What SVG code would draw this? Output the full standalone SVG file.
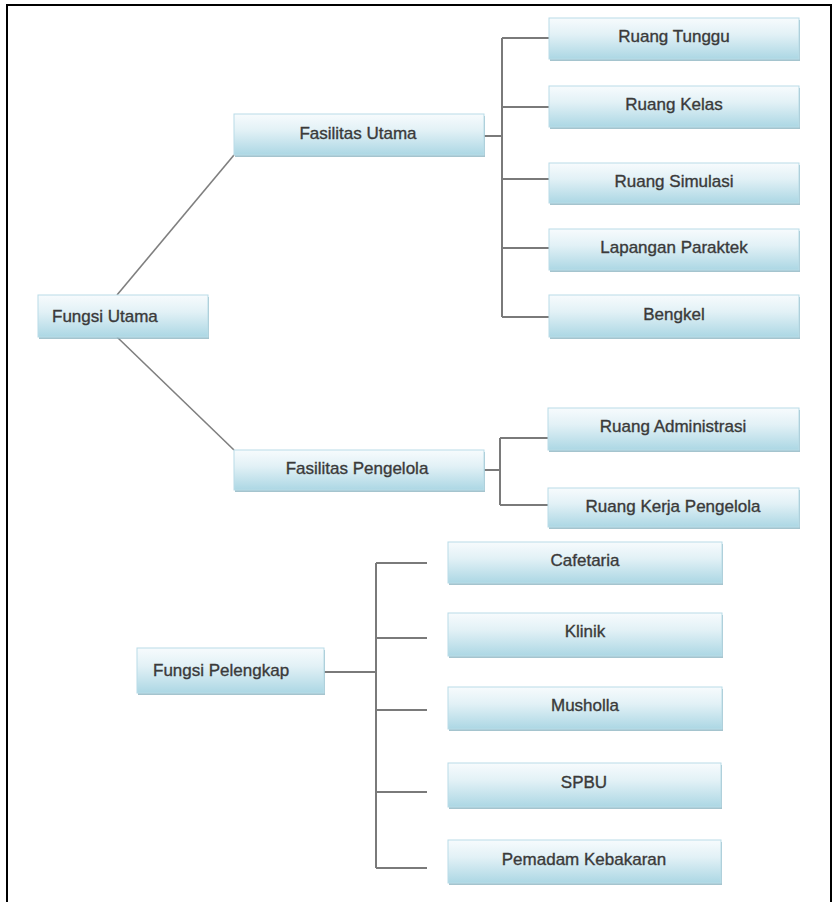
<svg xmlns="http://www.w3.org/2000/svg" width="834" height="902" viewBox="0 0 834 902">
<defs>
<linearGradient id="g" x1="0" y1="0" x2="0" y2="1">
<stop offset="0" stop-color="#f7fbfd"/>
<stop offset="0.4" stop-color="#e2f1f6"/>
<stop offset="1" stop-color="#acd7e4"/>
</linearGradient>
<style>
.box{fill:url(#g);stroke:#b9dce7;stroke-width:1}
.sh{fill:#8fb5c2;opacity:0.8}
.t{font-family:"Liberation Sans",Arial,sans-serif;font-size:17px;fill:#3a3a3a;stroke:#3a3a3a;stroke-width:0.35;text-anchor:middle}
.tl{text-anchor:start}
.c{stroke:#7a7a7a;stroke-width:2;fill:none}
.d{stroke:#7f7f7f;stroke-width:1.6;fill:none}
</style>
</defs>
<rect width="834" height="902" fill="#ffffff"/>
<rect x="7" y="5" width="824" height="920" fill="none" stroke="#000" stroke-width="2"/>

<g id="connectors">
<line class="d" x1="117" y1="295" x2="234" y2="155"/>
<line class="d" x1="117" y1="337" x2="234" y2="450"/>
<polyline class="c" points="484,136 502,136"/>
<line class="c" x1="502" y1="38" x2="502" y2="317"/>
<line class="c" x1="502" y1="38" x2="549" y2="38"/>
<line class="c" x1="502" y1="107" x2="549" y2="107"/>
<line class="c" x1="502" y1="179" x2="549" y2="179"/>
<line class="c" x1="502" y1="248" x2="549" y2="248"/>
<line class="c" x1="502" y1="317" x2="549" y2="317"/>
<line class="c" x1="481" y1="470" x2="500" y2="470"/>
<line class="c" x1="500" y1="438" x2="500" y2="505"/>
<line class="c" x1="500" y1="438" x2="548" y2="438"/>
<line class="c" x1="500" y1="505" x2="548" y2="505"/>
<line class="c" x1="324" y1="672" x2="376" y2="672"/>
<line class="c" x1="376" y1="563" x2="376" y2="868"/>
<line class="c" x1="376" y1="563" x2="427" y2="563"/>
<line class="c" x1="376" y1="638" x2="427" y2="638"/>
<line class="c" x1="376" y1="710" x2="427" y2="710"/>
<line class="c" x1="376" y1="792" x2="427" y2="792"/>
<line class="c" x1="376" y1="868" x2="427" y2="868"/>
</g>

<g id="fungsi-utama">
<rect class="sh" x="39" y="297" width="170" height="42"/>
<rect class="box" x="38" y="295" width="170" height="42"/>
<text class="t tl" x="52" y="322">Fungsi Utama</text>
</g>
<g id="fasilitas-utama">
<rect class="sh" x="235" y="116" width="250" height="41"/>
<rect class="box" x="234" y="114" width="250" height="41"/>
<text class="t" x="358" y="139">Fasilitas Utama</text>
</g>
<g id="ruang-tunggu">
<rect class="sh" x="550" y="20" width="250" height="41"/>
<rect class="box" x="549" y="18" width="250" height="41"/>
<text class="t" x="674" y="42">Ruang Tunggu</text>
</g>
<g id="ruang-kelas">
<rect class="sh" x="550" y="88" width="250" height="41"/>
<rect class="box" x="549" y="86" width="250" height="41"/>
<text class="t" x="674" y="110">Ruang Kelas</text>
</g>
<g id="ruang-simulasi">
<rect class="sh" x="550" y="165" width="250" height="40"/>
<rect class="box" x="549" y="163" width="250" height="40"/>
<text class="t" x="674" y="187">Ruang Simulasi</text>
</g>
<g id="lapangan-paraktek">
<rect class="sh" x="550" y="231" width="250" height="41"/>
<rect class="box" x="549" y="229" width="250" height="41"/>
<text class="t" x="674" y="253">Lapangan Paraktek</text>
</g>
<g id="bengkel">
<rect class="sh" x="550" y="297" width="250" height="42"/>
<rect class="box" x="549" y="295" width="250" height="42"/>
<text class="t" x="674" y="320">Bengkel</text>
</g>
<g id="fasilitas-pengelola">
<rect class="sh" x="235" y="452" width="250" height="40"/>
<rect class="box" x="234" y="450" width="250" height="40"/>
<text class="t" x="357" y="474">Fasilitas Pengelola</text>
</g>
<g id="ruang-administrasi">
<rect class="sh" x="549" y="410" width="251" height="42"/>
<rect class="box" x="548" y="408" width="251" height="42"/>
<text class="t" x="673" y="432">Ruang Administrasi</text>
</g>
<g id="ruang-kerja-pengelola">
<rect class="sh" x="549" y="490" width="251" height="39"/>
<rect class="box" x="548" y="488" width="251" height="39"/>
<text class="t" x="673" y="512">Ruang Kerja Pengelola</text>
</g>
<g id="fungsi-pelengkap">
<rect class="sh" x="138" y="650" width="187" height="45"/>
<rect class="box" x="137" y="648" width="187" height="45"/>
<text class="t tl" x="153" y="676">Fungsi Pelengkap</text>
</g>
<g id="cafetaria">
<rect class="sh" x="449" y="544" width="274" height="41"/>
<rect class="box" x="448" y="542" width="274" height="41"/>
<text class="t" x="585" y="566">Cafetaria</text>
</g>
<g id="klinik">
<rect class="sh" x="449" y="615" width="274" height="43"/>
<rect class="box" x="448" y="613" width="274" height="43"/>
<text class="t" x="585" y="637">Klinik</text>
</g>
<g id="musholla">
<rect class="sh" x="449" y="689" width="274" height="42"/>
<rect class="box" x="448" y="687" width="274" height="42"/>
<text class="t" x="585" y="711">Musholla</text>
</g>
<g id="spbu">
<rect class="sh" x="449" y="765" width="273" height="44"/>
<rect class="box" x="448" y="763" width="273" height="44"/>
<text class="t" x="584" y="788">SPBU</text>
</g>
<g id="pemadam-kebakaran">
<rect class="sh" x="449" y="842" width="273" height="43"/>
<rect class="box" x="448" y="840" width="273" height="43"/>
<text class="t" x="584" y="865">Pemadam Kebakaran</text>
</g>
</svg>
